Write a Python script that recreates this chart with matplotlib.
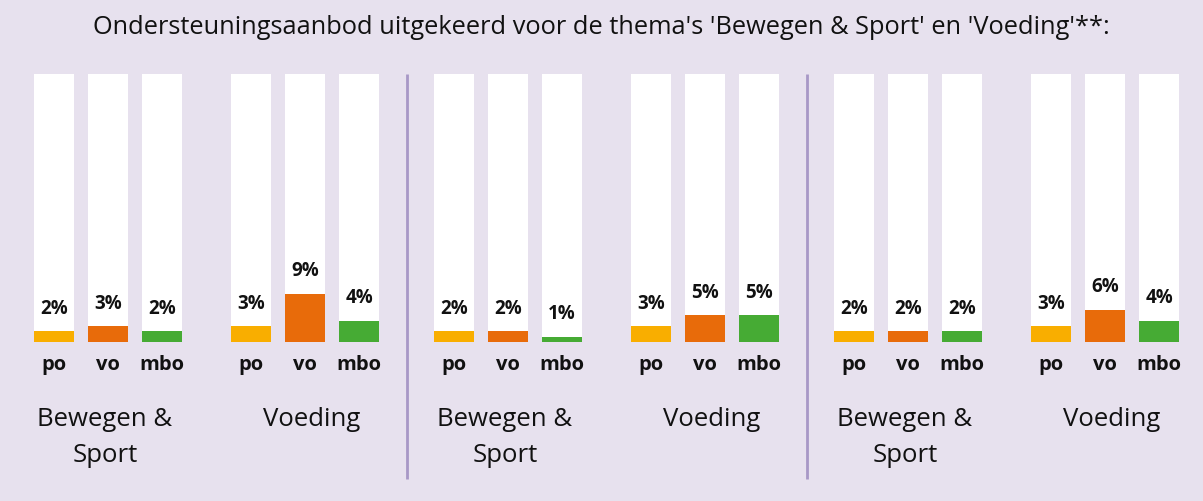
import numpy as np
import matplotlib
matplotlib.use("Agg")
import matplotlib.pyplot as plt

plt.rcParams['font.family'] = ['Open Sans', 'DejaVu Sans']

# percentages per panel: [Bewegen & Sport (po, vo, mbo), Voeding (po, vo, mbo)]
levels = ['po', 'vo', 'mbo']
themes = ['Bewegen &\nSport', 'Voeding']
panel_1 = [[2, 3, 2], [3, 9, 4]]
panel_2 = [[2, 2, 1], [3, 5, 5]]
panel_3 = [[2, 2, 2], [3, 6, 4]]
panels = [panel_1, panel_2, panel_3]
scale_max = 50

title = "Ondersteuningsaanbod uitgekeerd voor de thema's 'Bewegen & Sport' en 'Voeding'**:"

colors = ['#f9ae00', '#e86b0a', '#46ab34']
bg = '#e7e1ee'
sep_color = '#a898c6'

# layout (in bar slots)
slot = 54.0
bar_w = 40 / slot
group_gap = 197 / slot
panel_gap = 400 / slot
first = 54 / slot
theme_shift = [-0.06, 0.12]

fig = plt.figure(figsize=(12.03, 5.02), dpi=100, facecolor=bg)
ax = fig.add_axes([0, 0.3167, 1, 0.5339])
ax.set_facecolor(bg)
ax.set_xlim(0, 1203 / slot)
ax.set_ylim(0, scale_max)
ax.axis('off')

for p, panel in enumerate(panels):
    for g, vals in enumerate(panel):
        x0 = first + p * panel_gap + g * group_gap
        xs = x0 + np.arange(len(levels))
        ax.bar(xs, [scale_max] * len(xs), width=bar_w, color='white', zorder=1)
        ax.bar(xs, vals, width=bar_w, color=colors, zorder=2)
        for x, v, lab in zip(xs, vals, levels):
            ax.text(x, v + 2.5, f'{v}%', ha='center', va='bottom',
                    fontsize=13.5, fontweight='bold', color='#111111', zorder=3)
            ax.text(x, -4.1, lab, ha='center', va='center', fontsize=14.5,
                    fontweight='bold', color='#111111', clip_on=False)
        ax.text(xs[1] + theme_shift[g], -12.0, themes[g], ha='center', va='top',
                fontsize=18.5, color='#111111', linespacing=1.55, clip_on=False)
    if p > 0:
        xsep = (first + p * panel_gap + first + (p - 1) * panel_gap + group_gap + 2) / 2
        ax.vlines(xsep, -25.6, scale_max, color=sep_color, lw=2, clip_on=False)

fig.text(0.5, 1 - 28 / 502, title, ha='center', va='center', fontsize=18.3, color='#111111')

fig.savefig('out.png', dpi=100, facecolor=bg)
